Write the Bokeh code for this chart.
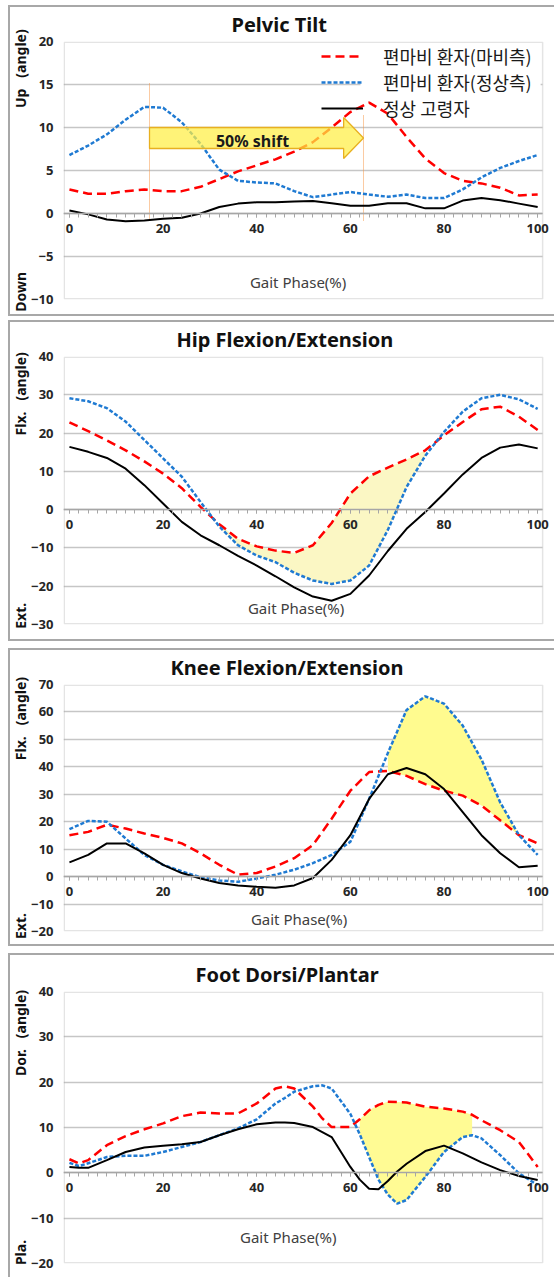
import numpy as np
from bokeh.plotting import figure
from bokeh.models import Range1d, FixedTicker, Label, BoxAnnotation
from bokeh.layouts import column
from bokeh.embed import file_html
from bokeh.resources import INLINE

# ---------------- data ----------------
series_names = ["편마비 환자(마비측)", "편마비 환자(정상측)", "정상 고령자"]
x_std = list(range(0, 101, 4))

pelvic_affected = [2.8, 2.3, 2.3, 2.6, 2.8, 2.6, 2.6, 3.1, 4.0, 4.9, 5.6, 6.3, 7.2,
                   8.3, 10.0, 11.8, 12.9, 11.6, 8.9, 6.4, 4.7, 3.8, 3.5, 3.0, 2.1, 2.2]
pelvic_unaffected = [6.8, 7.9, 9.2, 10.9, 12.4, 12.3, 10.6, 8.1, 5.1, 3.8, 3.6, 3.5, 2.6,
                     1.9, 2.2, 2.5, 2.2, 1.95, 2.2, 1.8, 1.8, 2.8, 4.2, 5.3, 6.1, 6.8]
pelvic_normal = [0.35, -0.1, -0.7, -0.9, -0.8, -0.6, -0.5, 0.0, 0.75, 1.15, 1.3, 1.3, 1.4,
                 1.45, 1.2, 0.9, 0.9, 1.2, 1.2, 0.6, 0.6, 1.5, 1.8, 1.55, 1.15, 0.75]

hip_affected = [22.8, 20.5, 18.1, 15.5, 12.6, 9.4, 5.6, 0.7, -3.8, -7.6, -9.6, -10.7, -11.3,
                -9.3, -3.5, 4.2, 8.7, 11.0, 13.1, 15.5, 19.4, 22.9, 26.2, 26.9, 24.3, 20.8]
hip_unaffected = [29.1, 28.3, 26.5, 23.0, 18.2, 13.4, 8.6, 2.0, -4.4, -9.3, -12.0, -13.7, -16.5,
                  -18.5, -19.4, -18.5, -14.6, -5.3, 5.9, 14.1, 20.3, 25.6, 29.1, 30.0, 28.8, 26.3]
hip_normal = [16.4, 15.1, 13.5, 10.7, 6.4, 1.6, -3.2, -6.7, -9.3, -12.1, -14.6, -17.4, -20.3,
              -22.7, -23.8, -22.0, -17.2, -10.8, -5.0, -0.6, 4.2, 9.2, 13.5, 16.2, 17.0, 16.0]

knee_affected = [15.1, 16.3, 18.9, 17.5, 15.7, 14.1, 12.1, 8.5, 4.3, 0.7, 1.3, 3.7, 6.7,
                 11.5, 21.1, 31.3, 38.1, 38.5, 36.7, 33.7, 31.3, 29.5, 25.9, 20.5, 15.1, 12.1]
knee_unaffected = [17.3, 20.3, 20.0, 13.9, 7.9, 4.3, 1.9, -0.2, -1.4, -1.9, -0.7, 0.7, 2.5,
                   4.9, 7.9, 12.7, 28.3, 45.0, 60.7, 65.7, 63.0, 55.0, 42.7, 27.0, 15.1, 7.9]
knee_normal = [5.2, 7.9, 12.1, 12.1, 8.5, 4.3, 1.3, -0.7, -2.3, -3.2, -3.7, -4.1, -3.2,
               -0.5, 6.1, 15.1, 28.3, 37.3, 39.6, 37.3, 31.9, 23.5, 15.1, 8.5, 3.4, 4.0]

foot_x = [0, 2, 4, 8, 12, 16, 20, 24, 28, 32, 36, 40, 44, 46, 48, 52, 54, 56, 60, 62, 64,
          66, 68, 70, 72, 76, 80, 84, 86, 88, 92, 96, 100]
foot_affected = [3.0, 2.1, 2.8, 6.1, 8.1, 9.6, 10.9, 12.5, 13.3, 13.1, 13.1, 15.3, 18.6, 19.1,
                 18.6, 14.6, 12.0, 10.1, 10.1, 11.8, 13.8, 15.0, 15.7, 15.6, 15.5, 14.6, 14.2,
                 13.5, 12.8, 11.6, 9.4, 6.8, 1.3]
foot_unaffected = [2.2, 1.5, 2.1, 3.5, 3.75, 3.75, 4.6, 5.7, 6.8, 8.3, 9.8, 11.8, 15.3, 16.5,
                   17.9, 19.1, 19.3, 18.6, 13.0, 8.5, 3.5, -1.5, -4.8, -6.8, -6.0, -0.9, 4.6,
                   7.9, 8.3, 7.6, 3.9, -0.1, -2.7]
foot_normal = [1.3, 1.1, 1.1, 2.8, 4.6, 5.6, 6.0, 6.3, 6.8, 8.3, 9.6, 10.7, 11.1, 11.1, 11.0,
               10.1, 9.0, 7.9, 1.3, -1.5, -3.5, -3.6, -1.8, 0.3, 2.0, 4.8, 6.0, 4.3, 3.3, 2.3,
               0.6, -0.7, -1.6]

x_ticks = [0, 20, 40, 60, 80, 100]
shift_from, shift_to = 17.1, 62.8          # gait-phase peaks joined by the "50% shift" arrow

# ---------------- layout constants (page px) ----------------
FIG_X = 8
FIG_W = 546
FRAME_L, FRAME_R, CANVAS_R = 58, 542, 553   # plot box edges / drawable right edge
PX_PER_UNIT = 4.730
XMIN = -1.27
XMAX = XMIN + (FRAME_R - FRAME_L) / PX_PER_UNIT      # right edge of the plot box
XR = XMIN + (CANVAS_R - FRAME_L) / PX_PER_UNIT       # right edge of bokeh frame

NB = "\u00a0"
panels = [
    dict(title="Pelvic Tilt", title_left=226, x=x_std,
         ys=(pelvic_affected, pelvic_unaffected, pelvic_normal),
         ymin=-10, ymax=20, ystep=5, fig_top=5, fig_h=311, ft=41, fb=299, mtop=5,
         ylabel="Down" + NB * 45 + "Up" + NB * 3 + "(angle)", gait=(295, 281),
         fill=None, border_bottom=True),
    dict(title="Hip Flexion/Extension", title_left=171, x=x_std,
         ys=(hip_affected, hip_unaffected, hip_normal),
         ymin=-30, ymax=40, ystep=10, fig_top=320, fig_h=321, ft=356, fb=624, mtop=4,
         ylabel="Ext." + NB * 46 + "Flx." + NB * 3 + "(angle)", gait=(293, 607),
         fill=(32, 76, "#fbf7c4"), border_bottom=True),
    dict(title="Knee Flexion/Extension", title_left=165, x=x_std,
         ys=(knee_affected, knee_unaffected, knee_normal),
         ymin=-20, ymax=70, ystep=10, fig_top=648, fig_h=298, ft=681, fb=931, mtop=7,
         ylabel="Ext." + NB * 42 + "Flx." + NB * 3 + "(angle)", gait=(296, 918),
         fill=(68, 96, "#fffb8f"), border_bottom=True),
    dict(title="Foot Dorsi/Plantar", title_left=190, x=foot_x,
         ys=(foot_affected, foot_unaffected, foot_normal),
         ymin=-20, ymax=40, ystep=10, fig_top=953, fig_h=324, ft=991, fb=1263, mtop=7,
         ylabel="Pla." + NB * 45 + "Dor." + NB * 3 + "(angle)", gait=(285, 1236),
         fill=(62, 86, "#fffb94"), border_bottom=False),
]

RED, BLUE, BLACK = "#ff0000", "#1f7ad2", "#000000"
GRID = "#c6c6c6"
AXC = "#a6a6a6"
TXT = "#262626"


def px2x(px):
    return XMIN + (px - FRAME_L) / PX_PER_UNIT


figs = []
for i, s in enumerate(panels):
    ymin, ymax, ft, fb = s["ymin"], s["ymax"], s["ft"], s["fb"]
    upp = (ymax - ymin) / (fb - ft)      # data units per pixel

    def py2y(py, ymax=ymax, ft=ft, upp=upp):
        return ymax - (py - ft) * upp

    shadow = "inset 0 2px 0 #a8a8a8, inset 2px 0 0 #a8a8a8"
    if s["border_bottom"]:
        shadow += ", inset 0 -2px 0 #a8a8a8"

    p = figure(width=FIG_W, height=s["fig_h"],
               x_range=Range1d(XMIN, XR), y_range=Range1d(ymin, ymax),
               output_backend="svg", toolbar_location=None,
               title=s["title"],
               min_border_left=FRAME_L - FIG_X, min_border_right=FIG_X + FIG_W - CANVAS_R,
               min_border_top=ft - s["fig_top"],
               min_border_bottom=s["fig_top"] + s["fig_h"] - fb,
               background_fill_color="white", border_fill_color=None,
               outline_line_color=None,
               margin=(s["mtop"], 0, 0, FIG_X),
               styles={"box-shadow": shadow})

    p.title.align = "left"
    p.title.offset = s["title_left"] - FRAME_L
    p.title.standoff = 7
    p.title.text_font = "Noto Sans"
    p.title.text_font_style = "bold"
    p.title.text_font_size = "20px"
    p.title.text_color = "#111111"

    # plot box outline (inset half a line so it is not clipped)
    p.add_layout(BoxAnnotation(left=XMIN + 0.75 / PX_PER_UNIT, right=XMAX,
                               top=ymax - 0.75 * upp, bottom=ymin + 0.75 * upp,
                               fill_alpha=0, line_color=AXC, line_width=1.5,
                               level="underlay"))

    # axes
    p.xaxis.fixed_location = 0
    p.xaxis.bounds = (XMIN, XMAX)
    p.xaxis.ticker = FixedTicker(ticks=x_ticks, minor_ticks=list(range(0, 101, 2)))
    p.xaxis.axis_line_color = AXC
    p.xaxis.axis_line_width = 1.5
    p.xaxis.major_tick_line_color = AXC
    p.xaxis.minor_tick_line_color = AXC
    p.xaxis.major_tick_in = 0
    p.xaxis.major_tick_out = 4
    p.xaxis.minor_tick_in = 0
    p.xaxis.minor_tick_out = 4
    p.xaxis.major_label_standoff = 6
    p.xaxis.major_label_text_font = "Noto Sans"
    p.xaxis.major_label_text_font_style = "bold"
    p.xaxis.major_label_text_font_size = "13px"
    p.xaxis.major_label_text_color = TXT
    p.xgrid.visible = False

    p.yaxis.ticker = FixedTicker(ticks=list(range(ymin, ymax + 1, s["ystep"])))
    p.yaxis.axis_line_color = None
    p.yaxis.major_tick_line_color = None
    p.yaxis.minor_tick_line_color = None
    p.yaxis.major_tick_in = 0
    p.yaxis.major_tick_out = 0
    p.yaxis.minor_tick_in = 0
    p.yaxis.minor_tick_out = 0
    p.yaxis.major_label_standoff = 10
    p.yaxis.major_label_text_font = "Noto Sans"
    p.yaxis.major_label_text_font_style = "bold"
    p.yaxis.major_label_text_font_size = "13px"
    p.yaxis.major_label_text_color = TXT
    p.yaxis.axis_label = s["ylabel"]
    p.yaxis.axis_label_standoff = -2
    p.yaxis.axis_label_text_font = "Noto Sans"
    p.yaxis.axis_label_text_font_style = "bold"
    p.yaxis.axis_label_text_font_size = "14px"
    p.yaxis.axis_label_text_color = "#111111"

    yg = p.ygrid[0]
    yg.grid_line_color = GRID
    yg.grid_line_width = 1.5
    if "cross_bounds" in yg.properties():
        yg.cross_bounds = (XMIN, XMAX)
    else:
        yg.visible = False
        gy = list(range(ymin + s["ystep"], ymax, s["ystep"]))
        p.segment(x0=[XMIN] * len(gy), y0=gy, x1=[XMAX] * len(gy), y1=gy,
                  line_color=GRID, line_width=1.5, level="underlay")

    x = np.array(s["x"], dtype=float)
    ya, yu, yn = (np.array(v, dtype=float) for v in s["ys"])

    if s["fill"] is not None:
        lo, hi, col = s["fill"]
        m = (x >= lo) & (x <= hi)
        p.varea(x=x[m], y1=yu[m], y2=ya[m], fill_color=col, fill_alpha=1)

    if i == 0:
        # white patch behind the legend text (hides the grid line there)
        p.add_layout(BoxAnnotation(left=px2x(358), right=px2x(540), top=py2y(43), bottom=py2y(93),
                                   fill_color="white", fill_alpha=1, line_color=None,
                                   level="underlay"))
        # dotted orange markers
        p.segment(x0=[shift_from, shift_to], y0=[py2y(83), py2y(115)],
                  x1=[shift_from, shift_to], y1=[py2y(218), py2y(220)],
                  line_color="#f79646", line_width=1, line_dash="1 1")

    kw_a = dict(line_color=RED, line_width=2.5, line_dash="9 5")
    kw_u = dict(line_color=BLUE, line_width=2.5, line_dash="4 2")
    kw_n = dict(line_color=BLACK, line_width=2)
    if i == 0:
        p.line(x, ya, legend_label=series_names[0], **kw_a)
        p.line(x, yu, legend_label=series_names[1], **kw_u)
        p.line(x, yn, legend_label=series_names[2], **kw_n)
    else:
        p.line(x, ya, **kw_a)
        p.line(x, yu, **kw_u)
        p.line(x, yn, **kw_n)

    if i == 0:
        yc = py2y(137.5)
        bh = py2y(127) - yc
        hh = py2y(117) - yc
        xb = px2x(341)
        ax = [shift_from, xb, xb, shift_to, xb, xb, shift_from]
        ay = [yc + bh, yc + bh, yc + hh, yc, yc - hh, yc - bh, yc - bh]
        p.patch(ax, ay, fill_color="#ffee44", fill_alpha=0.72,
                line_color="#e8b020", line_width=1.3)
        p.add_layout(Label(x=px2x(249), y=py2y(140), text="50% shift",
                           text_align="center", text_baseline="middle",
                           text_font="Noto Sans", text_font_style="bold",
                           text_font_size="16px", text_color="#1a1a1a"))
        lg = p.legend[0]
        lg.location = (316 - FRAME_L, fb - 121)
        lg.background_fill_alpha = 0
        lg.border_line_color = None
        lg.label_text_font = "Noto Sans CJK KR"
        lg.label_text_font_size = "18px"
        lg.label_text_color = "#1a1a1a"
        lg.glyph_width = 42
        lg.glyph_height = 18
        lg.label_height = 18
        lg.label_standoff = 20
        lg.spacing = 0
        lg.padding = 0
        lg.margin = 0

    gx, gy_ = s["gait"]
    p.add_layout(Label(x=px2x(gx), y=py2y(gy_), text="Gait Phase(%)",
                       text_align="center", text_baseline="middle",
                       text_font="Noto Sans", text_font_size="15px",
                       text_color="#404040"))
    figs.append(p)

layout = column(*figs, spacing=0)
open("out.html", "w").write(file_html(layout, INLINE))
